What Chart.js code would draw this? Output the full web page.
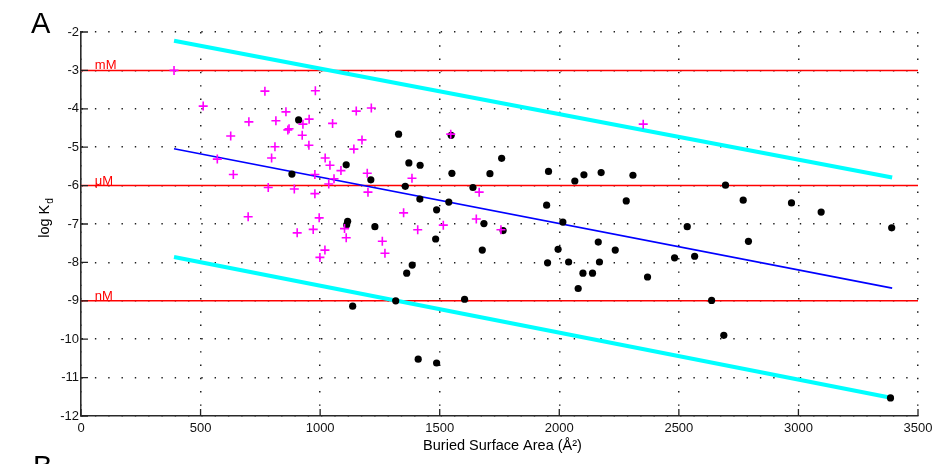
<!DOCTYPE html>
<html>
<head>
<meta charset="utf-8">
<title>log Kd vs buried surface area</title>
<script src="https://cdn.jsdelivr.net/npm/chart.js@4/dist/chart.umd.min.js"></script>
<style>
    html, body { margin: 0; padding: 0; background: #fff; }
    #kdChart { display: block; }
</style>
</head>
<body>
<canvas id="kdChart" width="933" height="464"></canvas>
<script>
// complexes (black dots)
const complexX = [910, 882, 1109, 1212, 1328, 1115, 1111, 1229, 1371, 1418, 1356, 1417, 1487, 1483, 1538,
    1551, 1548, 1639, 1710, 1759, 1685, 1678, 1765, 1385, 1362, 1604, 1955, 1947, 1951, 2065,
    2103, 2175, 2308, 2015, 1995, 2039, 2163, 2234, 2168, 2099, 2139, 2079, 2280, 2369, 2535,
    2482, 2566, 2637, 2695, 2769, 2791, 2971, 3095, 3390, 1136, 1316, 1410, 1487, 2688, 3385];
const complexY = [-4.29, -5.70, -5.46, -5.85, -4.66, -6.93, -7.02, -7.07, -5.41, -5.47, -6.02, -6.35, -6.63, -7.39, -6.43,
    -5.68, -4.69, -6.05, -5.69, -5.29, -6.99, -7.68, -7.17, -8.07, -8.28, -8.96, -5.63, -6.51, -8.01, -5.88,
    -5.72, -5.66, -5.73, -6.95, -7.66, -7.99, -7.47, -7.68, -7.99, -8.28, -8.28, -8.68, -6.40, -8.38, -7.07,
    -7.88, -7.84, -8.99, -5.99, -6.38, -7.45, -6.45, -6.69, -7.10, -9.14, -9.00, -10.52, -10.62, -9.90, -11.53];

// weak / transient complexes (magenta crosses)
const weakX = [389, 769, 980, 511, 857, 815, 954, 928, 1052, 1151, 1214, 702, 865, 870, 626, 925, 1175, 811,
    953, 1141, 797, 1021, 570, 1041, 1087, 637, 978, 1058, 1197, 1036, 783, 892, 978, 1200, 699, 996,
    904, 971, 1102, 1109, 1260, 1020, 999, 1271, 1384, 1546, 1349, 1515, 1408, 1653, 1665, 1756, 2351];
const weakY = [-3.00, -3.54, -3.53, -3.93, -4.08, -4.31, -4.27, -4.40, -4.38, -4.06, -3.98, -4.34, -4.55, -4.52, -4.71, -4.69, -4.81, -4.99,
    -4.95, -5.05, -5.28, -5.28, -5.31, -5.47, -5.61, -5.71, -5.71, -5.82, -5.68, -5.96, -6.05, -6.09, -6.21, -6.17, -6.81, -6.84,
    -7.23, -7.14, -7.12, -7.36, -7.45, -7.68, -7.87, -7.76, -5.81, -4.66, -6.71, -7.03, -7.15, -6.87, -6.17, -7.15, -4.40];

// regression line and its band
const fitX = [389, 3392];
const fitY = [-5.04, -8.67];
const upperY = [-2.23, -5.79];
const lowerY = [-7.86, -11.53];

// affinity reference levels
const levelY = [-3, -6, -9];
const levelNames = ['mM', 'μM', 'nM'];
const levelX = [0, 3500];

const xTicks = [0, 500, 1000, 1500, 2000, 2500, 3000, 3500];
const yTicks = [-2, -3, -4, -5, -6, -7, -8, -9, -10, -11, -12];

const FONT = '"Liberation Sans", Arial, sans-serif';

function toPoints(xs, ys) {
    return xs.map((x, i) => ({ x: x, y: ys[i] }));
}

const levelSets = levelY.map(v => ({
    type: 'line',
    data: toPoints(levelX, [v, v]),
    borderColor: '#ff0000',
    borderWidth: 1.5,
    pointRadius: 0,
    order: 5,
}));

// labels, panel letters, inward ticks
const decorations = {
    id: 'decorations',
    afterDatasetsDraw(chart) {
        const ctx = chart.ctx;
        const xs = chart.scales.x;
        const ys = chart.scales.y;
        const area = chart.chartArea;
        ctx.save();

        // level names sitting on the red lines
        ctx.fillStyle = '#ff0000';
        ctx.font = '13px ' + FONT;
        ctx.textAlign = 'left';
        ctx.textBaseline = 'alphabetic';
        levelY.forEach((v, i) => {
            ctx.fillText(levelNames[i], xs.getPixelForValue(58), ys.getPixelForValue(v) - 1);
        });

        // inward tick marks on left and bottom axes
        ctx.strokeStyle = '#222';
        ctx.lineWidth = 1.3;
        ctx.beginPath();
        yTicks.forEach(v => {
            const py = ys.getPixelForValue(v);
            ctx.moveTo(area.left, py);
            ctx.lineTo(area.left + 7, py);
        });
        xTicks.forEach(v => {
            const px = xs.getPixelForValue(v);
            ctx.moveTo(px, area.bottom);
            ctx.lineTo(px, area.bottom - 7);
        });
        ctx.stroke();
        ctx.restore();
    },
    afterDraw(chart) {
        const ctx = chart.ctx;
        const area = chart.chartArea;
        ctx.save();
        ctx.fillStyle = '#000';

        // panel letters
        ctx.font = '29px ' + FONT;
        ctx.textAlign = 'left';
        ctx.textBaseline = 'alphabetic';
        ctx.fillText('A', 31, 33);
        ctx.fillText('B', 33, 476);

        // x title
        ctx.font = '14.5px ' + FONT;
        ctx.textAlign = 'center';
        ctx.textBaseline = 'middle';
        ctx.fillText('Buried Surface Area (Å²)', (area.left + area.right) / 2 + 3, 446);

        // y title with subscript
        ctx.translate(44, 218);
        ctx.rotate(-Math.PI / 2);
        ctx.textAlign = 'left';
        ctx.textBaseline = 'alphabetic';
        ctx.font = '14.5px ' + FONT;
        const main = 'log K';
        const wMain = ctx.measureText(main).width;
        ctx.font = '10px ' + FONT;
        const wSub = ctx.measureText('d').width;
        const start = -(wMain + wSub + 1) / 2;
        ctx.font = '14.5px ' + FONT;
        ctx.fillText(main, start, 5);
        ctx.font = '10px ' + FONT;
        ctx.fillText('d', start + wMain + 1, 9);
        ctx.restore();
    }
};

const gridStyle = {
    color: '#1e1e1e',
    lineWidth: 1.5,
    drawTicks: false,
};

const axisBorder = { display: true, color: '#2a2a2a', width: 1.6, dash: [1.4, 11.9] };

new Chart(document.getElementById('kdChart'), {
    type: 'scatter',
    data: {
        datasets: [
            ...levelSets,
            {
                type: 'line',
                data: toPoints(fitX, upperY),
                borderColor: '#00ffff',
                borderWidth: 4,
                pointRadius: 0,
                order: 4,
            },
            {
                type: 'line',
                data: toPoints(fitX, lowerY),
                borderColor: '#00ffff',
                borderWidth: 4,
                pointRadius: 0,
                order: 4,
            },
            {
                type: 'line',
                data: toPoints(fitX, fitY),
                borderColor: '#0000ff',
                borderWidth: 1.6,
                pointRadius: 0,
                order: 4,
            },
            {
                label: 'complexes',
                data: toPoints(complexX, complexY),
                backgroundColor: '#000',
                borderColor: '#000',
                pointRadius: 3.6,
                borderWidth: 0,
                order: 2,
            },
            {
                label: 'weak',
                data: toPoints(weakX, weakY),
                pointStyle: 'cross',
                borderColor: '#ff00ff',
                pointRadius: 4.5,
                borderWidth: 1.6,
                order: 1,
            },
        ],
    },
    options: {
        responsive: false,
        animation: false,
        events: [],
        layout: {
            padding: { top: 32, right: 15, left: 0, bottom: 0 }
        },
        plugins: {
            legend: { display: false },
            tooltip: { enabled: false },
        },
        scales: {
            x: {
                type: 'linear',
                min: 0,
                max: 3500,
                afterFit(scale) {
                    scale.height = 48;
                    scale.paddingLeft = 0;
                    scale.paddingRight = 0;
                },
                afterBuildTicks(scale) { scale.ticks = xTicks.map(v => ({ value: v })); },
                ticks: {
                    color: '#111',
                    font: { family: FONT, size: 13 },
                    padding: 5,
                    maxRotation: 0,
                    callback: v => String(v),
                },
                grid: gridStyle,
                border: axisBorder,
            },
            y: {
                type: 'linear',
                min: -12,
                max: -2,
                afterFit(scale) {
                    scale.width = 81;
                    scale.paddingTop = 0;
                    scale.paddingBottom = 0;
                },
                afterBuildTicks(scale) { scale.ticks = yTicks.map(v => ({ value: v })); },
                ticks: {
                    color: '#111',
                    font: { family: FONT, size: 13 },
                    padding: 2,
                    callback: v => String(v),
                },
                grid: gridStyle,
                border: axisBorder,
            },
        },
    },
    plugins: [decorations],
});
</script>
</body>
</html>
